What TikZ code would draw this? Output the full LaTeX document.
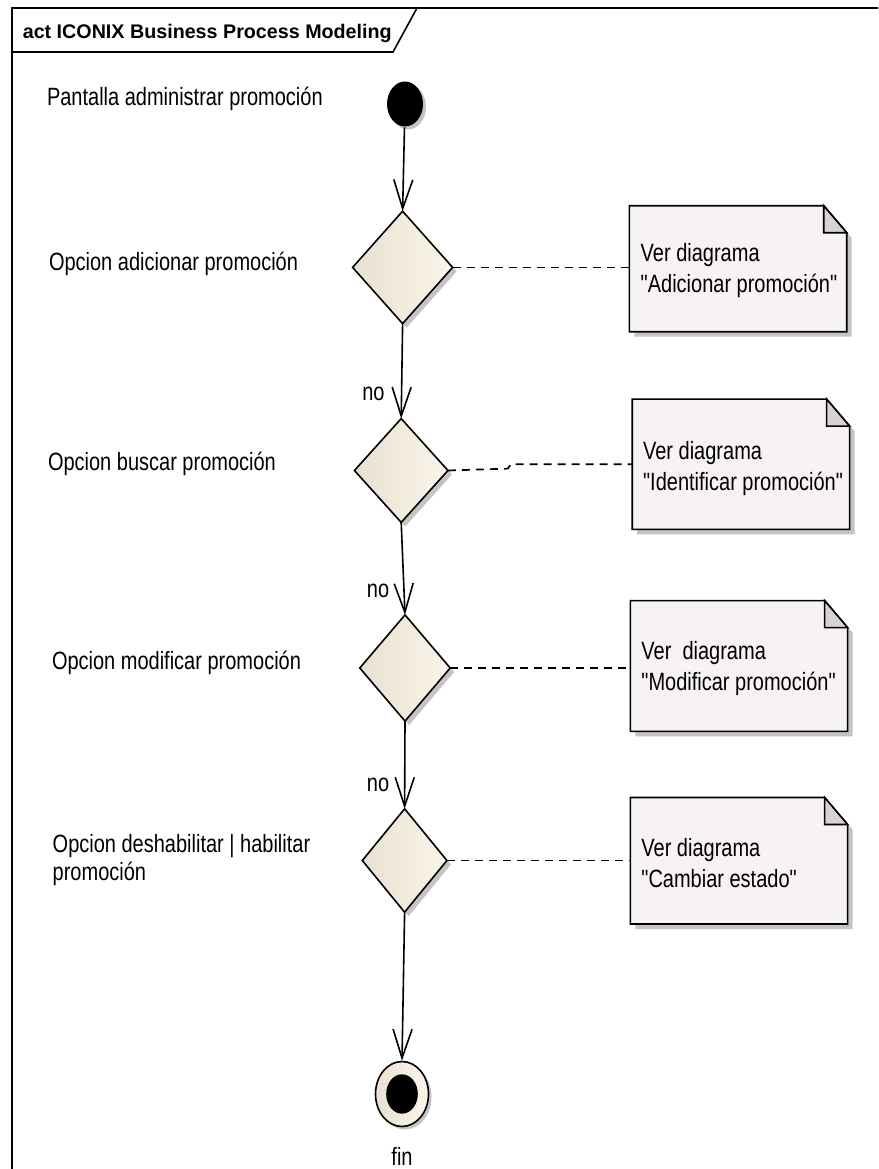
\documentclass[tikz,border=0pt]{standalone}
\usepackage{fontspec}
\setmainfont{Liberation Sans}
\newfontfamily\narrowfont{Liberation Sans}[FakeStretch=0.8]
\usetikzlibrary{arrows.meta,shapes.geometric,shadows,calc}
\definecolor{dl}{RGB}{232,224,210}
\definecolor{dr}{RGB}{251,245,234}
\definecolor{notefill}{RGB}{246,242,246}
\definecolor{foldfill}{RGB}{214,210,216}
\definecolor{shadowgray}{RGB}{196,196,196}
\newcommand\drawnote[1]{%
  \fill[shadowgray] ($(#1.north east)+(0,27)+(5,5)$) -- ($(#1.south east)+(5,5)$) -- ($(#1.south west)+(5,5)$) -- ($(#1.south west)+(5,0)$) -- ($(#1.south east)$) -- ($(#1.north east)+(0,27)$) -- cycle;
  \draw[fill=notefill] (#1.north west) -- ($(#1.north east)+(-23,0)$) -- ($(#1.north east)+(0,27)$) -- (#1.south east) -- (#1.south west) -- cycle;
  \draw[fill=foldfill] ($(#1.north east)+(-23,0)$) -- ($(#1.north east)+(-23,27)$) -- ($(#1.north east)+(0,27)$) -- cycle;
}
\begin{document}
\begin{tikzpicture}[x=1pt,y=-1pt,line width=1.6pt,
  txt/.style={font=\narrowfont\fontsize{25}{28}\selectfont, inner sep=0pt, outer sep=0pt},
  notetxt/.style={font=\narrowfont\fontsize{25}{31}\selectfont, inner sep=0pt, outer sep=0pt, anchor=base west},
  decision/.style={diamond, draw, inner sep=0pt, outer sep=0pt, left color=dl, right color=dr,
     drop shadow={shadow xshift=4pt, shadow yshift=-4pt, fill=shadowgray, opacity=1}},
  notebox/.style={rectangle, draw=none, inner sep=0pt, outer sep=0pt, anchor=north west},
  flow/.style={-{Straight Barb[length=29pt,width=19pt,line width=1.6pt]}},
  link/.style={dash pattern=on 8pt off 6pt, line width=1.7pt},
]
\useasboundingbox (0,0) rectangle (878,1169);
\clip (0,0) rectangle (878,1169);
\fill[white] (0,0) rectangle (878,1169);

% frame
\draw[line width=1.8pt] (12,1180) -- (12,8) -- (890,8);
\draw[line width=1.6pt] (12,52) -- (393,52) -- (417,8);
\node[anchor=base west, inner sep=0pt, font=\bfseries\fontsize{19.7}{22}\selectfont] (title) at (22,39) {act ICONIX Business Process Modeling};

% nodes
\node[ellipse, fill=black, minimum width=36, minimum height=45, inner sep=0pt,
  drop shadow={shadow xshift=3pt, shadow yshift=-3pt, fill=shadowgray, opacity=1}] (init) at (405,104) {};
\node[decision, minimum width=100, minimum height=112.4] (d1) at (402.6,267.4) {};
\node[decision, minimum width=93.5, minimum height=103.8] (d2) at (401.2,470.5) {};
\node[decision, minimum width=90.4, minimum height=106.2] (d3) at (405,668) {};
\node[decision, minimum width=84.6, minimum height=103.4] (d4) at (404.6,860.5) {};
\node[ellipse, draw, minimum width=53, minimum height=65, inner sep=0pt, left color=dl, right color=dr,
  drop shadow={shadow xshift=3pt, shadow yshift=-3pt, fill=shadowgray, opacity=1}] (fin) at (402,1094) {};
\node[ellipse, fill=black, minimum width=31.6, minimum height=39.4, inner sep=0pt] (finin) at (fin.center) {};

% left labels
\node[txt, anchor=base west] (l0) at (47,106) {Pantalla administrar promoción};
\node[txt, anchor=base west] (l1) at (49,270) {Opcion adicionar promoción};
\node[txt, anchor=base west] (l2) at (48,470) {Opcion buscar promoción};
\node[txt, anchor=base west] (l3) at (52,669) {Opcion modificar promoción};
\node[txt, anchor=base west] (l4) at (52.7,852) {\begin{tabular}[t]{@{}l@{}}Opcion deshabilitar | habilitar\\promoción\end{tabular}};
\node[txt, anchor=base] (finl) at (402,1165) {fin};

% flows
\draw[flow] (init) -- (d1.north);
\draw[flow] (d1.south) -- (d2.north);
\draw[flow] (d2.south) -- (d3.north);
\draw[flow] (d3.south) -- (d4.north);
\draw[flow] (d4.south) -- (fin.north);
\node[txt, anchor=base] (no1) at (373.4,400) {no};
\node[txt, anchor=base] (no2) at (378,597) {no};
\node[txt, anchor=base] (no3) at (378,791) {no};

% notes
\node[notebox, minimum width=217.4, minimum height=126] (n1) at (629.3,205.7) {};
\node[notebox, minimum width=217.4, minimum height=130.2] (n2) at (632.2,399.1) {};
\node[notebox, minimum width=217.2, minimum height=130.8] (n3) at (630.4,600.6) {};
\node[notebox, minimum width=217.2, minimum height=126.5] (n4) at (630.4,797.5) {};
\drawnote{n1}
\drawnote{n2}
\drawnote{n3}
\drawnote{n4}
\node[notetxt] (t1) at (640.7,261.7) {\begin{tabular}[t]{@{}l@{}}Ver diagrama\\"Adicionar promoción"\end{tabular}};
\node[notetxt] (t2) at (643.1,459.7) {\begin{tabular}[t]{@{}l@{}}Ver diagrama\\"Identificar promoción"\end{tabular}};
\node[notetxt] (t3) at (641.4,659.5) {\begin{tabular}[t]{@{}l@{}}Ver~~diagrama\\"Modificar promoción"\end{tabular}};
\node[notetxt] (t4) at (641.4,856.7) {\begin{tabular}[t]{@{}l@{}}Ver diagrama\\"Cambiar estado"\end{tabular}};

% note links
\draw[link] (d1.east) -- (d1.east -| n1.west);
\draw[link] (d2.east) -- (507.8,468.6) -- (511,464.2) -- (n2.west);
\draw[link] (d3.east) -- (d3.east -| n3.west);
\draw[link] (d4.east) -- (d4.east -| n4.west);
\end{tikzpicture}
\end{document}
